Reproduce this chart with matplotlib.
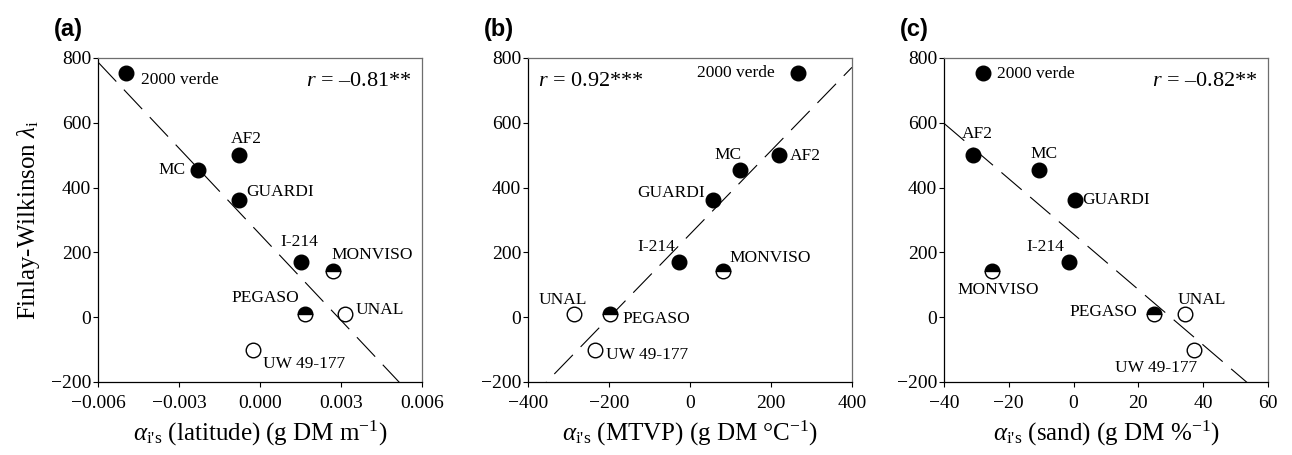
import numpy as np
import matplotlib
matplotlib.use("Agg")
import matplotlib.pyplot as plt

# cultivars and their Finlay-Wilkinson lambda (same in all three panels)
cultivars = ['2000 verde', 'AF2', 'MC', 'GUARDI', 'I-214', 'MONVISO', 'PEGASO', 'UNAL', 'UW 49-177']
lam = [754, 500, 455, 362, 171, 144, 9, 9, -100]
# marker type: f = filled, h = half filled, o = open
kind = ['f', 'f', 'f', 'f', 'f', 'h', 'h', 'o', 'o']

# alpha_i's for each environmental covariate
alpha_lat = [-0.00495, -0.00079, -0.0023, -0.00077, 0.00151, 0.00272, 0.00168, 0.00314, -0.00025]
alpha_mtvp = [266, 219, 123, 57, -28, 81, -198, -286, -235]
alpha_sand = [-28, -31, -10.8, 0.3, -1.5, -25.1, 24.7, 34.5, 37.2]

r_text = ['$r$ = \u20130.81**', '$r$ = 0.92***', '$r$ = \u20130.82**']
panel_tags = ['(a)', '(b)', '(c)']
xlabels = [r"$\alpha_{\text{i's}}$ (latitude) (g DM m$^{-1}$)",
           r"$\alpha_{\text{i's}}$ (MTVP) (g DM $\degree$C$^{-1}$)",
           r"$\alpha_{\text{i's}}$ (sand) (g DM %$^{-1}$)"]
xlims = [(-0.006, 0.006), (-400, 400), (-40, 60)]
xticks = [[-0.006, -0.003, 0.0, 0.003, 0.006], [-400, -200, 0, 200, 400], [-40, -20, 0, 20, 40, 60]]
xtick_fmt = ['{:.3f}', '{:.0f}', '{:.0f}']

# label placement: (dx px, dy px, ha) per cultivar
offs_a = [(15, -7, 'left'), (8, 16, 'center'), (-12, 0, 'right'), (7, 8, 'left'), (-2, 20, 'center'),
          (-2, 16, 'left'), (-6, 16, 'right'), (11, 4, 'left'), (10, -14, 'left')]
offs_b = [(-23, 0, 'right'), (11, -1, 'left'), (-12, 15, 'center'), (-8, 7, 'right'), (-3, 15, 'right'),
          (7, 13, 'left'), (13, -5, 'left'), (-11, 14, 'center'), (11, -5, 'left')]
offs_c = [(14, -1, 'left'), (4, 21, 'center'), (5, 16, 'center'), (8, 0, 'left'), (-5, 15, 'right'),
          (6, -19, 'center'), (-16, 2, 'right'), (16, 14, 'center'), (-38, -18, 'center')]

plt.rcParams['font.family'] = ['Liberation Serif', 'DejaVu Serif']
plt.rcParams['mathtext.fontset'] = 'custom'
plt.rcParams['mathtext.rm'] = 'Liberation Serif'
plt.rcParams['mathtext.it'] = 'Liberation Serif:italic'

fig = plt.figure(figsize=(12.92, 4.55), dpi=100)
lefts = [98, 528, 944]
axes = [fig.add_axes([l / 1292, 73 / 455, 324 / 1292, 324 / 455]) for l in lefts]

xs_all = [alpha_lat, alpha_mtvp, alpha_sand]
offs_all = [offs_a, offs_b, offs_c]
r_pos = [(0.969, 'right'), (0.031, 'left'), (0.969, 'right')]

for i, ax in enumerate(axes):
    x = np.array(xs_all[i])
    y = np.array(lam)
    # regression line
    k, b = np.polyfit(x, y, 1)
    xx = np.array(xlims[i])
    ax.plot(xx, k * xx + b, color='black', lw=0.8, dashes=(24, 10), zorder=1)
    for j in range(len(x)):
        if kind[j] == 'f':
            ax.plot(x[j], y[j], 'o', ms=10.5, mfc='black', mec='black', mew=1, zorder=3)
        elif kind[j] == 'h':
            ax.plot(x[j], y[j], 'o', ms=10.5, fillstyle='top', mfc='black', mfcalt='white',
                    mec='black', mew=1, zorder=3)
        else:
            ax.plot(x[j], y[j], 'o', ms=10.5, mfc='white', mec='black', mew=1, zorder=3)
        dx, dy, ha = offs_all[i][j]
        ax.annotate(cultivars[j], (x[j], y[j]), xytext=(dx, dy), textcoords='offset pixels',
                    ha=ha, va='center', fontsize=12.5)
    ax.set_xlim(xlims[i])
    ax.set_ylim(-200, 800)
    ax.set_yticks([-200, 0, 200, 400, 600, 800])
    ax.set_yticklabels(['\u2212200', '0', '200', '400', '600', '800'])
    ax.set_xticks(xticks[i])
    ax.set_xticklabels([xtick_fmt[i].format(v).replace('-', '\u2212') for v in xticks[i]])
    ax.tick_params(direction='out', length=3.5, width=0.8, labelsize=14)
    ax.tick_params(axis='x', pad=6)
    ax.tick_params(axis='y', pad=1.5)
    for s in ['top', 'right']:
        ax.spines[s].set_color('#6e6e6e')
    for s in ax.spines.values():
        s.set_linewidth(0.9)
    ax.set_xlabel(xlabels[i], fontsize=18, labelpad=5)
    rx, rha = r_pos[i]
    ax.text(rx, 0.926, r_text[i], transform=ax.transAxes, ha=rha, va='center', fontsize=16)
    ax.text(-0.135, 1.088, panel_tags[i], transform=ax.transAxes, ha='left',
            va='center', fontsize=17, fontweight='bold', family='Liberation Sans')

axes[0].set_ylabel(r'Finlay-Wilkinson $\lambda_{\mathrm{i}}$', fontsize=18, labelpad=6)

fig.savefig('out.png', dpi=100)
